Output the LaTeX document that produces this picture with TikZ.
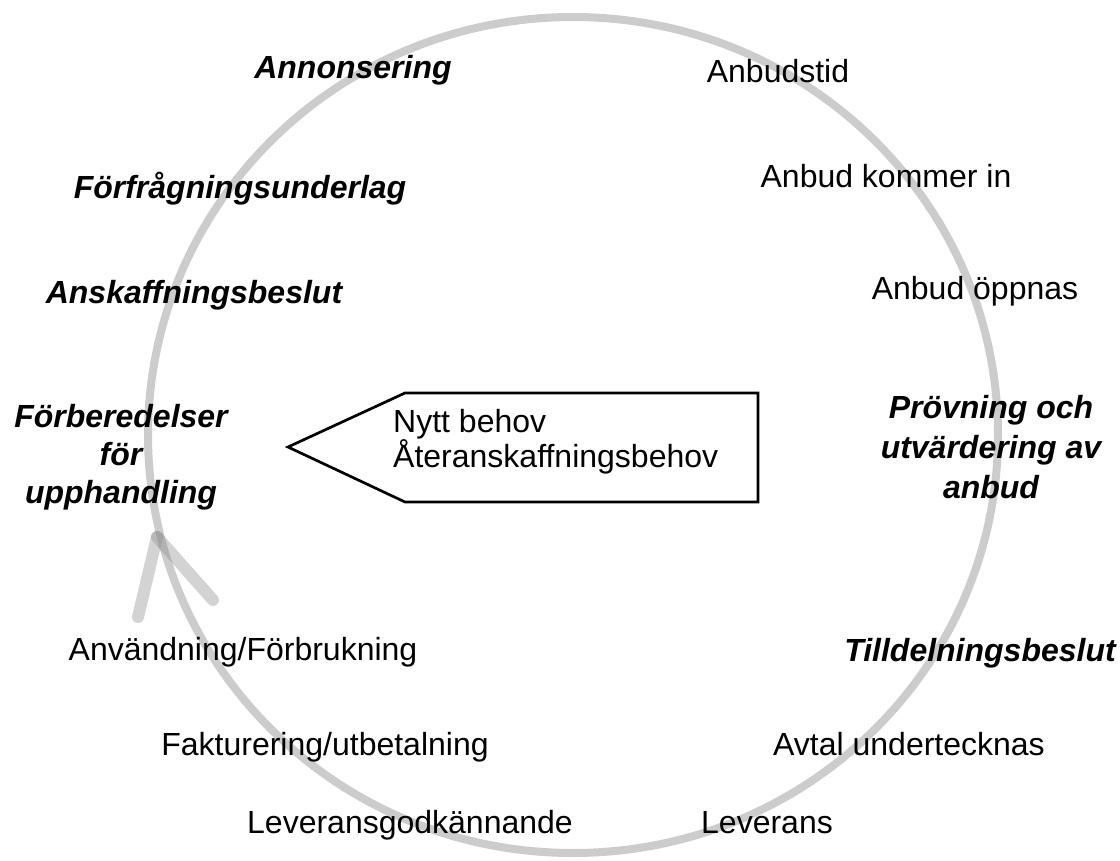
\documentclass[tikz,border=0pt]{standalone}
\usepackage{fontspec}
\setmainfont{Liberation Sans}
\begin{document}
\begin{tikzpicture}[x=1pt,y=-1pt,
  ring/.style={draw=black!20, line width=8pt},
  barb/.style={draw=black!45, draw opacity=0.38, line width=12pt, line cap=round},
  plain/.style={inner sep=0pt, anchor=base, font=\fontsize{32}{38}\selectfont},
  phase/.style={inner sep=0pt, anchor=base, font=\fontsize{32}{40}\selectfont\bfseries\itshape},
  boxline/.style={draw=black, line width=2.7pt, line join=miter, fill=white}]
\useasboundingbox (0,0) rectangle (1120,861);
% ring
\draw[ring] (573,435) ellipse [x radius=425pt, y radius=418pt];
% arrowhead on the ring
\coordinate (tip) at (157,537);
\coordinate (barbL) at (138,617);
\coordinate (barbR) at (213,600);
\draw[barb] (tip) -- (barbL);
\draw[barb] (tip) -- (barbR);
% pointer box
\coordinate (bp) at (288,447);
\coordinate (btl) at (405,393);
\coordinate (btr) at (758,393);
\coordinate (bbr) at (758,502);
\coordinate (bbl) at (405,502);
\draw[boxline] (bp) -- (btl) -- (btr) -- (bbr) -- (bbl) -- cycle;
\node[plain, anchor=base west, align=left, font=\fontsize{32}{35}\selectfont] (need) at (393,467) {Nytt behov\\Återanskaffningsbehov};
% phases (bold italic)
\node[phase] (annons) at (353,79) {Annonsering};
\node[phase] (forfr) at (240,199) {Förfrågningsunderlag};
\node[phase] (anskaff) at (194,304) {Anskaffningsbeslut};
\node[phase, align=center, font=\fontsize{32}{38}\selectfont\bfseries\itshape] (forb) at (121,503) {Förberedelser\\för\\upphandling};
\node[phase, align=center] (prov) at (991,498) {Prövning och\\utvärdering av\\anbud};
\node[phase] (tilldel) at (980,661) {Tilldelningsbeslut};
% steps (plain)
\node[plain] (anbtid) at (778,83) {Anbudstid};
\node[plain] (anbin) at (886,188) {Anbud kommer in};
\node[plain] (anbopp) at (975,300) {Anbud öppnas};
\node[plain] (avtal) at (909,755) {Avtal undertecknas};
\node[plain] (lev) at (767,833) {Leverans};
\node[plain] (levgod) at (410,833) {Leveransgodkännande};
\node[plain] (fakt) at (325,755) {Fakturering/utbetalning};
\node[plain] (anv) at (243,660) {Användning/Förbrukning};
\end{tikzpicture}
\end{document}
